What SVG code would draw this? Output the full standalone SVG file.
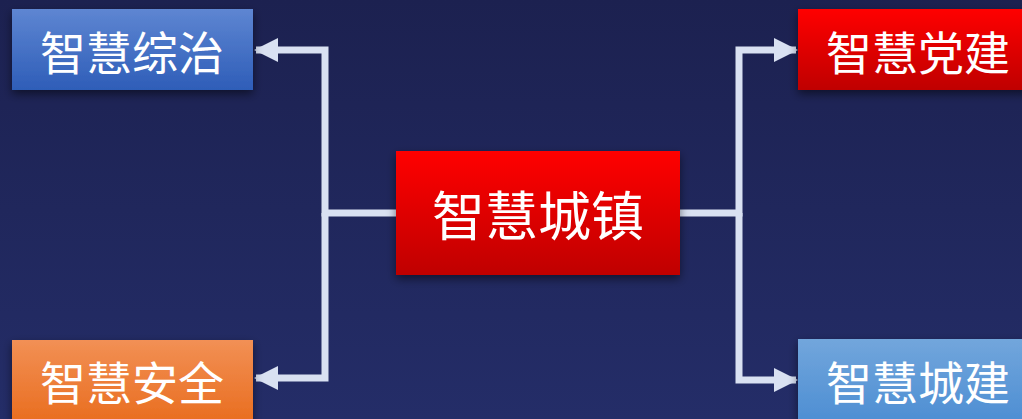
<svg xmlns="http://www.w3.org/2000/svg" width="1022" height="419" viewBox="0 0 1022 419">
<defs>
<linearGradient id="bg" x1="0" y1="0" x2="0" y2="1"><stop offset="0" stop-color="#1c2150"/><stop offset="1" stop-color="#242d68"/></linearGradient>
<linearGradient id="gBlue" x1="0" y1="0" x2="0" y2="1"><stop offset="0" stop-color="#5e86d2"/><stop offset="1" stop-color="#2e5db8"/></linearGradient>
<linearGradient id="gRed" x1="0" y1="0" x2="0" y2="1"><stop offset="0" stop-color="#ff0000"/><stop offset="1" stop-color="#bf0000"/></linearGradient>
<linearGradient id="gOrange" x1="0" y1="0" x2="0" y2="1"><stop offset="0" stop-color="#f29055"/><stop offset="1" stop-color="#e86a1a"/></linearGradient>
<linearGradient id="gLight" x1="0" y1="0" x2="0" y2="1"><stop offset="0" stop-color="#72a6dc"/><stop offset="1" stop-color="#4a8cd2"/></linearGradient>
<filter id="sh" x="-20%" y="-30%" width="140%" height="170%"><feDropShadow dx="0" dy="4" stdDeviation="5" flood-color="#000" flood-opacity="0.5"/></filter>
<marker id="ah" viewBox="0 0 24 24" refX="22" refY="12" markerWidth="24" markerHeight="24" markerUnits="userSpaceOnUse" orient="auto"><path d="M0,0 L24,12 L0,24 Z" fill="#d9e1f2"/></marker>
</defs>
<style>
.lbl{font-family:"Noto Sans CJK SC","Noto Sans",sans-serif;fill:#fff;text-anchor:middle;dominant-baseline:central}
.ln{fill:none;stroke:#d9e1f2;stroke-width:7}
</style>
<rect width="1022" height="419" fill="url(#bg)"/>
<g id="connectors">
<path class="ln" d="M396,213 H325 V50 H256" marker-end="url(#ah)"/>
<path class="ln" d="M325,213 V378 H256" marker-end="url(#ah)"/>
<path class="ln" d="M680,213 H739 V50 H796" marker-end="url(#ah)"/>
<path class="ln" d="M739,213 V380 H796" marker-end="url(#ah)"/>
</g>
<g id="n-center"><rect x="396" y="151" width="284" height="124" fill="url(#gRed)" filter="url(#sh)"/><text class="lbl" x="538" y="213" font-size="53">智慧城镇</text></g>
<g id="n-zongzhi"><rect x="12" y="9" width="241" height="81" fill="url(#gBlue)" filter="url(#sh)"/><text class="lbl" x="132" y="50" font-size="46">智慧综治</text></g>
<g id="n-anquan"><rect x="12" y="340" width="241" height="90" fill="url(#gOrange)" filter="url(#sh)"/><text class="lbl" x="132" y="380" font-size="46">智慧安全</text></g>
<g id="n-dangjian"><rect x="798" y="9" width="241" height="81" fill="url(#gRed)" filter="url(#sh)"/><text class="lbl" x="918" y="50" font-size="46">智慧党建</text></g>
<g id="n-chengjian"><rect x="798" y="339" width="241" height="90" fill="url(#gLight)" filter="url(#sh)"/><text class="lbl" x="918" y="380" font-size="46">智慧城建</text></g>
</svg>
